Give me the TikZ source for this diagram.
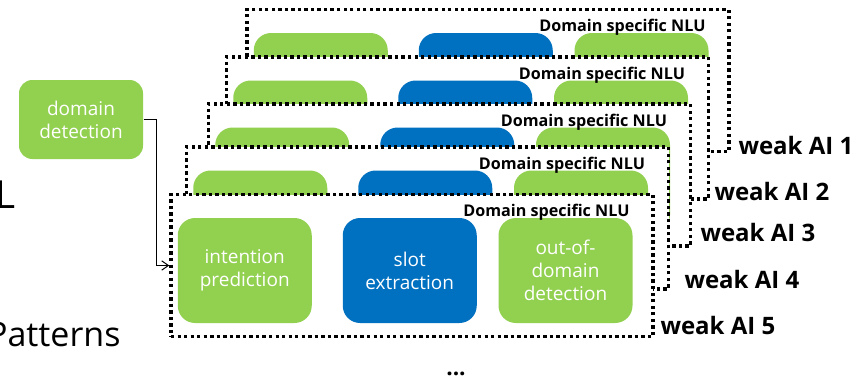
\documentclass[tikz,border=0pt]{standalone}
\usepackage{fontspec}
\setmainfont{Open Sans}
\usetikzlibrary{arrows.meta}

\definecolor{nlugreen}{RGB}{146,208,80}
\definecolor{nlublue}{RGB}{0,112,192}

\tikzset{every picture/.style={line width=0.75pt},
  nluframe/.style={draw=black, fill=white, line width=2.6pt, dash pattern=on 2.5pt off 2.4pt, minimum width=361.5pt, minimum height=106.5pt, inner sep=0pt},
  greenbox/.style={fill=nlugreen, rounded corners=13pt, minimum width=100.5pt, minimum height=78.75pt, inner sep=0pt, text=white, align=center, font=\fontsize{14.25}{17.25}\selectfont},
  bluebox/.style={greenbox, fill=nlublue},
  nlulabel/.style={anchor=base east, inner sep=0pt, font=\bfseries\fontsize{12.1}{14}\selectfont},
  weaklabel/.style={anchor=west, inner sep=0pt, font=\bfseries\fontsize{18}{21}\selectfont}
}

\begin{document}
\begin{tikzpicture}[x=0.75pt,y=0.75pt,yscale=-1,xscale=1]
\useasboundingbox (0,0) rectangle (864,379);

% Text Node
\node [anchor=base west, inner sep=0pt, font=\fontsize{29}{34}\selectfont] (titleL) at (-5,208.3) {L};
% Text Node
\node [anchor=base east, inner sep=0pt, font=\fontsize{25.5}{30}\selectfont] (patterns) at (121,346.7) {Patterns};

%Rounded Rect
\node [greenbox, rounded corners=10pt, minimum width=93pt, minimum height=59.25pt] (detect) at (81,119.5) {domain\\detection};

%Dotted Frame weak AI 1
\node [nluframe] (nlu1) at (488,80.5) {};
\node [greenbox] (intent1) at (320.75,85.5) {};
\node [bluebox] (slot1) at (485.75,85.5) {};
\node [greenbox] (ood1) at (641.5,85.5) {};
\node [nlulabel] (lab1) at (706,31.7) {Domain specific NLU};
\node [weaklabel] (weak1) at (738,145) {weak AI 1};

%Dotted Frame weak AI 2
\node [nluframe] (nlu2) at (467.5,128) {};
\node [greenbox] (intent2) at (300.25,133) {};
\node [bluebox] (slot2) at (465.25,133) {};
\node [greenbox] (ood2) at (621,133) {};
\node [nlulabel] (lab2) at (685.5,79.2) {Domain specific NLU};
\node [weaklabel] (weak2) at (714,191.7) {weak AI 2};

%Dotted Frame weak AI 3
\node [nluframe] (nlu3) at (449.5,175) {};
\node [greenbox] (intent3) at (282.25,180) {};
\node [bluebox] (slot3) at (447.25,180) {};
\node [greenbox] (ood3) at (603,180) {};
\node [nlulabel] (lab3) at (667.5,126.2) {Domain specific NLU};
\node [weaklabel] (weak3) at (700,232.7) {weak AI 3};

%Dotted Frame weak AI 4
\node [nluframe] (nlu4) at (427.5,218) {};
\node [greenbox] (intent4) at (260.25,223) {};
\node [bluebox] (slot4) at (425.25,223) {};
\node [greenbox] (ood4) at (581,223) {};
\node [nlulabel] (lab4) at (645.5,169.2) {Domain specific NLU};
\node [weaklabel] (weak4) at (684,279) {weak AI 4};

%Dotted Frame weak AI 5
\node [nluframe] (nlu5) at (412,265.5) {};
\node [greenbox] (intent5) at (244.75,270.5) {intention\\prediction};
\node [bluebox] (slot5) at (409.75,270.5) {slot\\extraction};
\node [greenbox] (ood5) at (565.5,270.5) {out-of-\\domain\\detection};
\node [nlulabel] (lab5) at (630,216.7) {Domain specific NLU};
\node [weaklabel] (weak5) at (660,325) {weak AI 5};

%Straight Lines
\draw [-{Straight Barb[length=5pt,width=7pt]}] (detect.east) -- ++(13,0) |- (nlu5.west);

% Text Node
\node [anchor=base, inner sep=0pt, font=\bfseries\fontsize{17}{20}\selectfont] (more) at (456,375.5) {...};

\end{tikzpicture}
\end{document}
